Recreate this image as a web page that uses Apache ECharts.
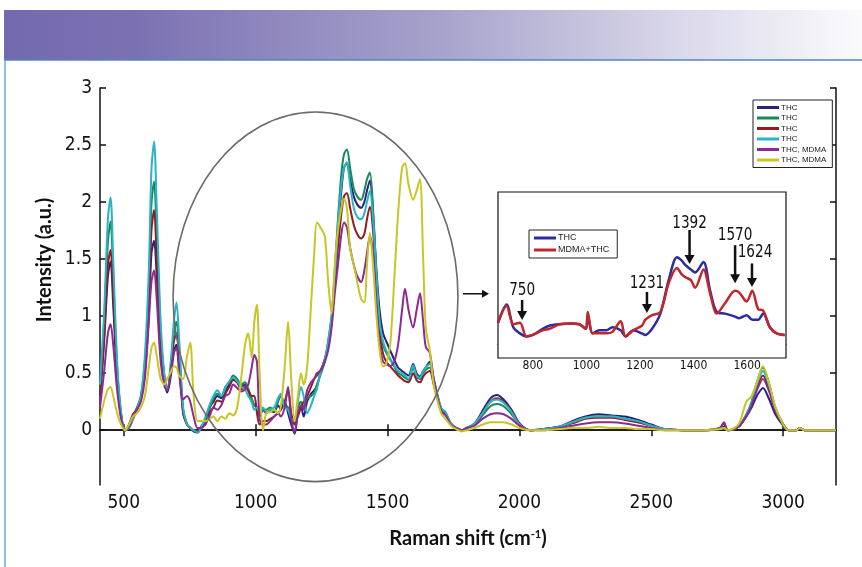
<!DOCTYPE html>
<html>
<head>
<meta charset="utf-8">
<title>Raman spectra THC / MDMA</title>
<script src="https://cdn.jsdelivr.net/npm/echarts@6.0.0/dist/echarts.min.js"></script>
<style>
  html, body { margin: 0; padding: 0; background: #fff; }
  #chart { width: 862px; height: 567px; }
</style>
</head>
<body>
<div id="chart"></div>
<script>
// raman shift grid shared by the six spectra (cm-1)
const shifts = [
  410, 425, 440, 450, 460, 475, 490, 505, 520, 535, 550, 565, 580, 595, 605, 615, 625, 640, 655, 665, 680, 690, 700, 710, 725, 740, 752, 765, 780, 795,
  810, 825, 840, 855, 870, 885, 900, 915, 930, 945, 960, 972, 985, 995, 1005, 1015, 1028,
  1040, 1055, 1070, 1085, 1095, 1110, 1123, 1135, 1148, 1160, 1172, 1182, 1195, 1210, 1222, 1232, 1245, 1262, 1275, 1288, 1300,
  1312, 1325, 1335, 1346, 1358, 1372, 1385, 1400, 1412, 1422, 1433, 1445, 1458, 1470, 1483, 1495, 1510, 1525, 1540, 1555, 1566, 1580, 1597, 1610, 1623, 1635, 1645, 1660, 1675, 1690, 1705, 1720, 1740, 1760, 1782, 1800,
  1830, 1860, 1890, 1915, 1940, 1970, 2000, 2040, 2090, 2150, 2200, 2250, 2300, 2350, 2400, 2450, 2500, 2550, 2620, 2700, 2760, 2775, 2790, 2830, 2860, 2880, 2900, 2923, 2945, 2970, 3000, 3020, 3050, 3063, 3080, 3140, 3200
];

const thcNavy = [
  0.30, 0.75, 1.35, 1.48, 1.10, 0.45, 0.12, 0.00, 0.02, 0.10, 0.18, 0.28, 0.50, 1.00, 1.55, 1.66, 1.35, 0.70, 0.42, 0.33, 0.50, 0.68, 0.75, 0.60, 0.15, 0.05, 0.02, -0.01, -0.02, 0.03,
  0.10, 0.20, 0.25, 0.30, 0.28, 0.35, 0.40, 0.45, 0.42, 0.38, 0.40, 0.35, 0.25, 0.22, 0.20, 0.12, 0.18,
  0.15, 0.17, 0.16, 0.22, 0.18, 0.25, 0.15, 0.05, -0.03, 0.15, 0.20, 0.12, 0.25, 0.32, 0.35, 0.38, 0.50, 0.62, 0.75, 0.95, 1.30,
  1.75, 2.10, 2.30, 2.34, 2.20, 2.05, 1.98, 1.95, 2.00, 2.10, 2.19, 1.90, 1.40, 1.05, 0.85, 0.78, 0.70, 0.62, 0.55, 0.52, 0.50, 0.48, 0.58, 0.50, 0.47, 0.52, 0.55, 0.60, 0.45, 0.30, 0.18, 0.15, 0.06, 0.02, 0.00, 0.02,
  0.06, 0.17, 0.28, 0.31, 0.27, 0.18, 0.06, 0.00, 0.01, 0.03, 0.08, 0.12, 0.14, 0.13, 0.12, 0.09, 0.05, 0.01, 0.00, 0.00, 0.01, 0.03, 0.00, 0.03, 0.12, 0.20, 0.30, 0.37, 0.28, 0.14, 0.04, 0.00, 0.00, 0.02, 0.00, 0.00, 0.00
];
const thcGreen = [
  0.35, 0.90, 1.65, 1.83, 1.35, 0.55, 0.15, 0.00, 0.03, 0.12, 0.20, 0.30, 0.60, 1.20, 1.98, 2.18, 1.70, 0.85, 0.45, 0.36, 0.60, 0.85, 0.95, 0.72, 0.18, 0.05, 0.02, 0.00, -0.01, 0.04,
  0.08, 0.18, 0.28, 0.32, 0.30, 0.38, 0.42, 0.48, 0.45, 0.40, 0.42, 0.36, 0.28, 0.22, 0.20, 0.14, 0.18,
  0.18, 0.20, 0.17, 0.25, 0.30, 0.22, 0.20, 0.12, 0.05, 0.20, 0.25, 0.20, 0.28, 0.30, 0.33, 0.40, 0.48, 0.60, 0.78, 1.00, 1.40,
  1.85, 2.25, 2.42, 2.46, 2.30, 2.12, 2.05, 2.02, 2.10, 2.20, 2.26, 1.95, 1.35, 0.95, 0.75, 0.68, 0.62, 0.56, 0.50, 0.48, 0.46, 0.44, 0.55, 0.47, 0.45, 0.50, 0.53, 0.55, 0.42, 0.28, 0.17, 0.14, 0.05, 0.02, 0.00, 0.02,
  0.05, 0.13, 0.21, 0.23, 0.21, 0.14, 0.05, 0.00, 0.01, 0.03, 0.07, 0.11, 0.12, 0.12, 0.10, 0.07, 0.04, 0.01, 0.00, 0.00, 0.01, 0.02, 0.00, 0.03, 0.14, 0.25, 0.42, 0.55, 0.42, 0.20, 0.05, 0.00, 0.00, 0.02, 0.00, 0.00, 0.00
];
const thcRed = [
  0.30, 0.80, 1.45, 1.58, 1.20, 0.50, 0.13, 0.00, 0.05, 0.14, 0.18, 0.28, 0.55, 1.10, 1.75, 1.93, 1.50, 0.80, 0.45, 0.35, 0.55, 0.78, 0.85, 0.65, 0.16, 0.05, 0.02, 0.00, -0.01, 0.03,
  0.05, 0.15, 0.20, 0.26, 0.25, 0.32, 0.38, 0.44, 0.42, 0.36, 0.38, 0.35, 0.30, 0.30, 0.15, 0.05, 0.08,
  0.08, 0.10, 0.12, 0.15, 0.18, 0.25, 0.35, 0.15, 0.05, 0.12, 0.20, 0.25, 0.30, 0.38, 0.45, 0.48, 0.52, 0.62, 0.75, 0.95, 1.28,
  1.60, 1.90, 2.05, 2.08, 1.95, 1.80, 1.72, 1.68, 1.72, 1.85, 1.96, 1.75, 1.25, 0.85, 0.67, 0.60, 0.56, 0.52, 0.48, 0.45, 0.43, 0.42, 0.50, 0.44, 0.42, 0.47, 0.50, 0.52, 0.40, 0.27, 0.16, 0.14, 0.05, 0.02, 0.00, 0.02,
  0.05, 0.15, 0.25, 0.28, 0.25, 0.17, 0.06, 0.00, 0.01, 0.03, 0.06, 0.10, 0.11, 0.11, 0.09, 0.07, 0.04, 0.01, 0.00, 0.00, 0.02, 0.06, 0.00, 0.03, 0.13, 0.23, 0.38, 0.48, 0.37, 0.18, 0.05, 0.00, 0.00, 0.02, 0.00, 0.00, 0.00
];
const thcCyan = [
  0.40, 1.00, 1.85, 2.04, 1.50, 0.60, 0.15, 0.00, 0.02, 0.10, 0.18, 0.30, 0.65, 1.40, 2.28, 2.53, 1.95, 0.95, 0.45, 0.35, 0.65, 0.95, 1.12, 0.80, 0.20, 0.05, 0.02, 0.00, -0.02, 0.03,
  0.12, 0.22, 0.30, 0.35, 0.30, 0.37, 0.43, 0.46, 0.43, 0.38, 0.36, 0.30, 0.25, 0.18, 0.20, 0.15, 0.20,
  0.16, 0.18, 0.20, 0.28, 0.32, 0.20, 0.18, 0.10, 0.08, 0.25, 0.38, 0.30, 0.15, 0.22, 0.30, 0.36, 0.50, 0.62, 0.78, 1.00, 1.35,
  1.80, 2.15, 2.30, 2.35, 2.15, 1.95, 1.87, 1.85, 1.90, 2.00, 2.10, 1.85, 1.35, 0.95, 0.78, 0.70, 0.63, 0.57, 0.52, 0.50, 0.48, 0.45, 0.57, 0.48, 0.46, 0.52, 0.55, 0.58, 0.44, 0.30, 0.19, 0.16, 0.06, 0.02, 0.00, 0.02,
  0.06, 0.15, 0.25, 0.27, 0.24, 0.16, 0.05, 0.00, 0.01, 0.03, 0.07, 0.11, 0.12, 0.12, 0.10, 0.08, 0.04, 0.01, 0.00, 0.00, 0.01, 0.02, 0.00, 0.03, 0.13, 0.24, 0.40, 0.52, 0.40, 0.19, 0.05, 0.00, 0.00, 0.02, 0.00, 0.00, 0.00
];
const mixPurple = [
  0.20, 0.50, 0.85, 0.93, 0.75, 0.35, 0.10, 0.00, 0.03, 0.12, 0.18, 0.25, 0.45, 0.95, 1.30, 1.40, 1.15, 0.60, 0.38, 0.35, 0.55, 0.68, 0.72, 0.50, 0.27, 0.30, 0.25, 0.12, 0.02, 0.02,
  0.06, 0.12, 0.20, 0.18, 0.22, 0.30, 0.32, 0.40, 0.37, 0.34, 0.36, 0.40, 0.55, 0.66, 0.60, 0.10, 0.05,
  0.05, 0.08, 0.12, 0.15, 0.12, 0.20, 0.38, 0.10, -0.02, 0.15, 0.22, 0.18, 0.35, 0.42, 0.45, 0.50, 0.52, 0.60, 0.70, 0.90, 1.20,
  1.45, 1.72, 1.82, 1.78, 1.60, 1.45, 1.35, 1.30, 1.40, 1.55, 1.70, 1.55, 1.10, 0.75, 0.60, 0.58, 0.56, 0.60, 0.75, 1.05, 1.24, 1.05, 0.90, 1.05, 1.20, 0.95, 0.73, 0.68, 0.45, 0.28, 0.16, 0.13, 0.05, 0.02, 0.00, 0.02,
  0.04, 0.10, 0.14, 0.15, 0.14, 0.10, 0.04, 0.00, 0.00, 0.02, 0.04, 0.06, 0.07, 0.07, 0.06, 0.04, 0.02, 0.00, 0.00, 0.00, 0.02, 0.07, 0.00, 0.03, 0.12, 0.22, 0.35, 0.45, 0.35, 0.17, 0.05, 0.00, 0.00, 0.02, 0.00, 0.00, 0.00
];
const mixYellow = [
  0.10, 0.25, 0.36, 0.38, 0.30, 0.15, 0.05, 0.00, 0.05, 0.12, 0.15, 0.20, 0.30, 0.55, 0.72, 0.77, 0.65, 0.45, 0.40, 0.45, 0.52, 0.56, 0.55, 0.48, 0.45, 0.65, 0.77, 0.30, 0.08, 0.08,
  0.08, 0.10, 0.12, 0.08, 0.12, 0.10, 0.15, 0.13, 0.20, 0.45, 0.75, 0.85, 0.64, 0.95, 1.10, 0.50, 0.00,
  0.15, 0.16, 0.18, 0.15, 0.20, 0.55, 0.95, 0.45, 0.08, 0.30, 0.50, 0.40, 0.55, 1.10, 1.55, 1.82, 1.78, 1.70, 1.30, 1.02, 1.45,
  1.75, 1.95, 2.03, 1.95, 1.60, 1.45, 1.30, 1.15, 1.12, 1.45, 1.73, 1.45, 1.00, 0.70, 0.56, 0.58, 0.75, 1.30, 1.90, 2.30, 2.34, 2.15, 2.02, 2.10, 2.20, 1.50, 0.90, 0.70, 0.40, 0.25, 0.14, 0.10, 0.04, 0.01, -0.01, 0.00,
  0.02, 0.05, 0.07, 0.07, 0.07, 0.05, 0.02, 0.00, 0.00, 0.01, 0.02, 0.02, 0.03, 0.02, 0.02, 0.01, 0.01, 0.00, 0.00, 0.00, 0.01, 0.02, 0.00, 0.05, 0.25, 0.30, 0.42, 0.56, 0.42, 0.20, 0.05, 0.00, 0.00, 0.02, 0.00, 0.00, 0.00
];

// legend names (trailing spaces keep the four THC entries apart, trimmed for display)
const seriesNames = ['THC', 'THC ', 'THC  ', 'THC   ', 'THC, MDMA', 'THC, MDMA '];
const seriesColors = ['#25237a', '#17895a', '#8f1d22', '#2ab3c6', '#8a2a92', '#c9c526'];
const seriesValues = [thcNavy, thcGreen, thcRed, thcCyan, mixPurple, mixYellow];

const xTicks = [500, 1000, 1500, 2000, 2500, 3000];
const yTicks = [0, 0.5, 1, 1.5, 2, 2.5, 3];

// inset: zoom on 670-1745 cm-1
const insetShifts = [670, 702, 727, 752, 776, 800, 837, 862, 900, 940, 973, 998, 1005, 1023, 1048, 1075, 1097, 1128, 1146, 1175, 1207, 1220, 1245, 1276, 1307, 1338, 1355, 1369, 1390, 1406, 1437, 1462, 1487, 1518, 1555, 1570, 1598, 1619, 1641, 1660, 1685, 1710, 1740];
const insetThc = [0.14, 0.26, 0.11, 0.07, 0.05, 0.06, 0.10, 0.12, 0.13, 0.135, 0.13, 0.10, 0.19, 0.07, 0.09, 0.09, 0.11, 0.09, 0.05, 0.09, 0.07, 0.06, 0.10, 0.20, 0.42, 0.57, 0.55, 0.52, 0.49, 0.47, 0.54, 0.35, 0.21, 0.20, 0.18, 0.17, 0.19, 0.16, 0.16, 0.20, 0.11, 0.07, 0.06];
const insetMix = [0.14, 0.25, 0.13, 0.14, 0.05, 0.06, 0.09, 0.10, 0.13, 0.135, 0.13, 0.10, 0.21, 0.07, 0.07, 0.07, 0.08, 0.15, 0.05, 0.09, 0.12, 0.16, 0.19, 0.21, 0.40, 0.50, 0.46, 0.44, 0.42, 0.37, 0.49, 0.33, 0.20, 0.27, 0.35, 0.34, 0.28, 0.35, 0.23, 0.22, 0.11, 0.07, 0.06];
const insetTicks = [800, 1000, 1200, 1400, 1600];

// peak callouts in the inset
const peakLabels = ['750', '1231', '1392', '1570', '1624'];
const peakX = [760, 1226, 1385, 1555, 1618];
const peakTip = [0.158, 0.204, 0.526, 0.40, 0.375];
const peakTail = [0.29, 0.342, 0.75, 0.65, 0.53];
const peakText = [0.355, 0.40, 0.796, 0.717, 0.60];

// circled region of the main plot (data units)
const ringCenter = [1227, 1.17];
const ringRadius = [540, 1.62];

const narrow = '"Liberation Sans Narrow", "DejaVu Sans Condensed", "Roboto", sans-serif';
const titleFont = 'Lato, "Open Sans", sans-serif';

function pairs(xs, ys) {
  return xs.map(function (x, i) { return [x, ys[i]]; });
}
function plain(v) { return String(v); }

const mainSeries = seriesValues.map(function (vals, i) {
  return {
    name: seriesNames[i],
    type: 'line',
    xAxisIndex: 0,
    yAxisIndex: 0,
    data: pairs(shifts, vals),
    showSymbol: false,
    smooth: 0.3,
    color: seriesColors[i],
    lineStyle: { width: 2 },
    animation: false
  };
});

const insetSeries = [
  { name: 'THC    ', data: pairs(insetShifts, insetThc), color: '#2c2ca0' },
  { name: 'MDMA+THC', data: pairs(insetShifts, insetMix), color: '#c1262c' }
].map(function (s) {
  return Object.assign({
    type: 'line', xAxisIndex: 2, yAxisIndex: 2, showSymbol: false,
    smooth: 0.3, lineStyle: { width: 2.5 }, animation: false, z: 5
  }, s);
});

const frameAxis = { show: true, lineStyle: { color: '#111', width: 1.5 } };

const option = {
  animation: false,
  backgroundColor: '#fff',
  grid: [
    { left: 100, right: 26, top: 88, bottom: 82 },
    { left: 498, top: 192, width: 288, height: 166, show: true, backgroundColor: '#fff',
      borderColor: '#111', borderWidth: 1.2, z: 4 }
  ],
  legend: [
    {
      data: seriesNames, left: 753, top: 100, orient: 'vertical',
      icon: 'rect', itemWidth: 22, itemHeight: 3, itemGap: 1.5,
      padding: [3, 6, 3, 4], borderColor: '#222', borderWidth: 1, backgroundColor: '#fff',
      formatter: function (n) { return n.trim(); },
      textStyle: { fontSize: 8, lineHeight: 9, color: '#222', fontFamily: 'Liberation Sans, Arial, sans-serif', padding: [0, 0, 0, -3] },
      selectedMode: false
    },
    {
      data: ['THC    ', 'MDMA+THC'], left: 529, top: 230, orient: 'vertical',
      icon: 'rect', itemWidth: 22, itemHeight: 3, itemGap: 2,
      padding: [3, 8, 3, 5], borderColor: '#222', borderWidth: 1, backgroundColor: '#fff',
      formatter: function (n) { return n.trim(); },
      textStyle: { fontSize: 9, lineHeight: 10, color: '#222', fontFamily: 'Liberation Sans, Arial, sans-serif', padding: [0, 0, 0, -3] },
      selectedMode: false, z: 6
    }
  ],
  xAxis: [
    {
      type: 'value', gridIndex: 0, min: 410, max: 3200, position: 'bottom',
      axisLine: frameAxis, splitLine: { show: false },
      axisTick: { inside: true, length: 6, customValues: xTicks, lineStyle: { color: '#111', width: 1.5 } },
      axisLabel: { customValues: xTicks, formatter: plain, fontSize: 19, color: '#111', fontFamily: narrow, margin: 9 },
      name: 'Raman shift (cm{sup|-1})', nameLocation: 'middle', nameGap: 44,
      nameTextStyle: {
        fontSize: 20, fontWeight: 'bold', color: '#111', fontFamily: titleFont,
        rich: { sup: { fontSize: 11, fontWeight: 'bold', color: '#111', fontFamily: titleFont, verticalAlign: 'top', padding: [0, 0, 9, 0] } }
      }
    },
    {
      type: 'value', gridIndex: 0, min: 410, max: 3200, position: 'top',
      axisLine: frameAxis, splitLine: { show: false },
      axisTick: { inside: true, length: 6, customValues: xTicks, lineStyle: { color: '#111', width: 1.5 } },
      axisLabel: { show: false }
    },
    {
      type: 'value', gridIndex: 1, min: 670, max: 1745,
      axisLine: { onZero: true, lineStyle: { color: '#111', width: 1.2 } },
      splitLine: { show: false }, axisTick: { show: false },
      axisLabel: { customValues: insetTicks, formatter: plain, fontSize: 12, color: '#111', fontFamily: narrow, margin: 2 }
    }
  ],
  yAxis: [
    {
      type: 'value', gridIndex: 0, min: -0.48, max: 3, position: 'left',
      axisLine: frameAxis, splitLine: { show: false },
      axisTick: { inside: true, length: 6, customValues: yTicks, lineStyle: { color: '#111', width: 1.5 } },
      axisLabel: { customValues: yTicks, formatter: plain, fontSize: 19, color: '#111', fontFamily: narrow, margin: 8 }
    },
    {
      type: 'value', gridIndex: 0, min: -0.48, max: 3, position: 'right',
      axisLine: frameAxis, splitLine: { show: false },
      axisTick: { inside: true, length: 6, customValues: yTicks, lineStyle: { color: '#111', width: 1.5 } },
      axisLabel: { show: false }
    },
    {
      type: 'value', gridIndex: 1, min: -0.092, max: 1,
      axisLine: { show: false }, axisTick: { show: false }, axisLabel: { show: false }, splitLine: { show: false }
    }
  ],
  series: mainSeries.concat(insetSeries)
};

const chart = echarts.init(document.getElementById('chart'), null, { renderer: 'canvas' });
chart.setOption(option);

function toPx(axisIdx, x, y) {
  return chart.convertToPixel({ xAxisIndex: axisIdx, yAxisIndex: axisIdx === 2 ? 2 : 0 }, [x, y]);
}

const graphics = [];

// header band
graphics.push({
  type: 'rect', z: 0, silent: true,
  shape: { x: 4, y: 10, width: 858, height: 50 },
  style: { fill: new echarts.graphic.LinearGradient(0, 0, 1, 0, [
    { offset: 0, color: '#7369ae' }, { offset: 0.15, color: '#7b71b2' },
    { offset: 0.5, color: '#a6a1cb' }, { offset: 0.8, color: '#dcdaeb' }, { offset: 1, color: '#fbfbfd' }
  ]) }
});
graphics.push({ type: 'line', z: 1, silent: true, shape: { x1: 4, y1: 60, x2: 862, y2: 60 }, style: { stroke: '#4f86c6', lineWidth: 1.5 } });
graphics.push({ type: 'line', z: 1, silent: true, shape: { x1: 5, y1: 60, x2: 5, y2: 567 }, style: { stroke: '#6fa7da', lineWidth: 1.5 } });

// y axis title
graphics.push({
  type: 'text', z: 10, silent: true, x: 45, y: 260, rotation: Math.PI / 2,
  style: { text: 'Intensity (a.u.)', font: 'bold 20px ' + titleFont, fill: '#111', align: 'center', verticalAlign: 'middle' }
});

// ellipse round the fingerprint region
const c = toPx(0, ringCenter[0], ringCenter[1]);
const e = toPx(0, ringCenter[0] + ringRadius[0], ringCenter[1] + ringRadius[1]);
const rx = e[0] - c[0];
const ry = c[1] - e[1];
graphics.push({
  type: 'ellipse', z: 8, silent: true,
  shape: { cx: c[0], cy: c[1], rx: rx, ry: ry },
  style: { fill: null, stroke: '#6b6b6b', lineWidth: 1.6 }
});

// arrow from ellipse to inset
const insetLeft = toPx(2, 670, 0)[0];
const ay = c[1] - 3;
const ax1 = c[0] + rx + 5;
const ax2 = insetLeft - 10;
graphics.push({ type: 'line', z: 8, silent: true, shape: { x1: ax1, y1: ay, x2: ax2 - 4, y2: ay }, style: { stroke: '#111', lineWidth: 1.5 } });
graphics.push({ type: 'polygon', z: 8, silent: true, shape: { points: [[ax2 - 6, ay - 4], [ax2 + 1, ay], [ax2 - 6, ay + 4]] }, style: { fill: '#111' } });

// peak arrows and labels inside the inset
peakLabels.forEach(function (lab, i) {
  const tip = toPx(2, peakX[i], peakTip[i]);
  const tail = toPx(2, peakX[i], peakTail[i]);
  const txt = toPx(2, peakX[i], peakText[i]);
  graphics.push({ type: 'line', z: 20, silent: true, shape: { x1: tail[0], y1: tail[1], x2: tip[0], y2: tip[1] - 7 }, style: { stroke: '#111', lineWidth: 2.5 } });
  graphics.push({ type: 'polygon', z: 20, silent: true, shape: { points: [[tip[0] - 5, tip[1] - 9], [tip[0] + 5, tip[1] - 9], [tip[0], tip[1]]] }, style: { fill: '#111' } });
  graphics.push({ type: 'text', z: 20, silent: true, x: txt[0] + (i === 4 ? 3 : 0), y: txt[1], scaleX: 0.84,
    style: { text: lab, font: '18px ' + narrow, fill: '#111', align: 'center', verticalAlign: 'middle' } });
});

chart.setOption({ graphic: graphics });
</script>
</body>
</html>
